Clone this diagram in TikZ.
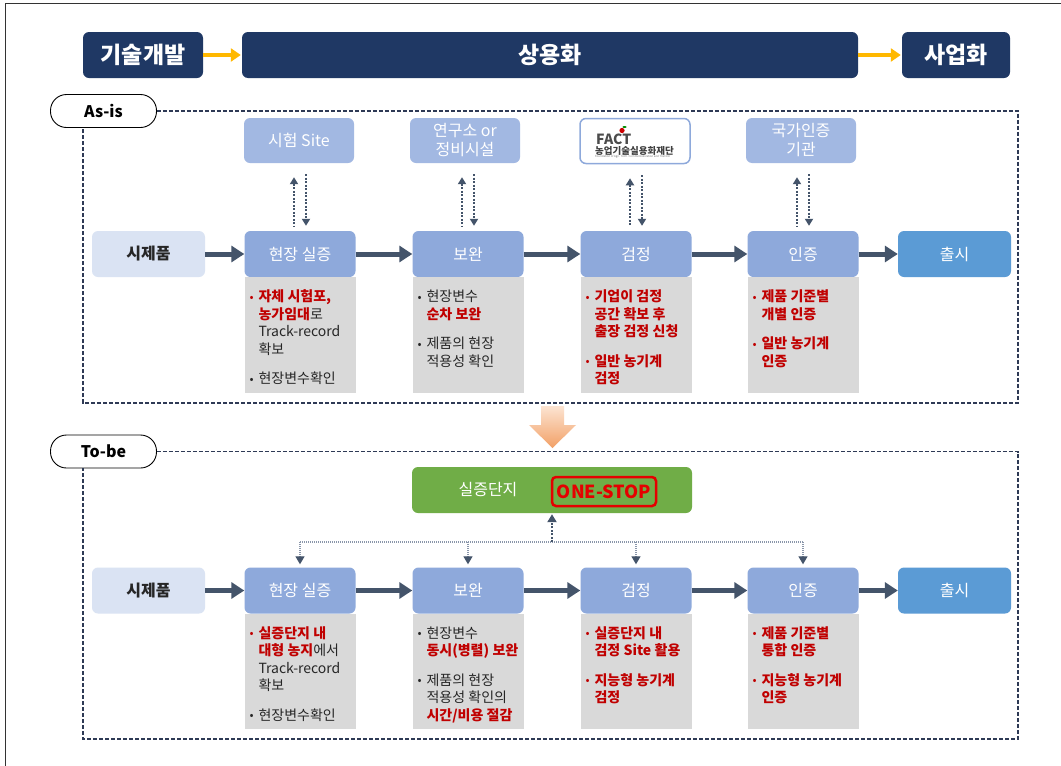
\documentclass[tikz,border=0pt]{standalone}
\usepackage{fontspec}
\setmainfont{Noto Sans CJK KR}
\usetikzlibrary{arrows.meta,calc}
\definecolor{hdrblue}{HTML}{1F3864}
\definecolor{goldc}{HTML}{FFB800}
\definecolor{topblue}{HTML}{A2B8E2}
\definecolor{stepblue}{HTML}{8EA9DB}
\definecolor{protoblue}{HTML}{DAE3F3}
\definecolor{relblue}{HTML}{5B9BD5}
\definecolor{grayfill}{HTML}{D9D9D9}
\definecolor{accred}{HTML}{C00000}
\definecolor{txtdark}{HTML}{262626}
\definecolor{arrowdark}{HTML}{44546A}
\definecolor{framecol}{HTML}{2E3A55}
\definecolor{greenbox}{HTML}{70AD47}
\definecolor{hubgray}{HTML}{8A96AA}
\definecolor{oranA}{HTML}{FCE4D2}
\definecolor{oranB}{HTML}{F2A066}
\newcommand\rb[1]{{\color{accred}\bfseries #1}}
\newcommand\bitem[2][txtdark]{\par\hangindent=9pt\hangafter=1\noindent\makebox[9pt][l]{\textcolor{#1}{\fontsize{12}{12}\selectfont\raisebox{0.5pt}{•}}}#2\par}
\newcommand\bgap{\par\vspace{12pt}}
\begin{document}
\begin{tikzpicture}[x=1pt,y=-1pt,
  hdr/.style={fill=hdrblue, rounded corners=6pt, text=white, font=\bfseries\fontsize{23}{23}\selectfont, minimum height=46pt, inner sep=0pt},
  pill/.style={draw=black, fill=white, line width=0.9pt, rounded corners=16pt, minimum width=106pt, minimum height=33pt, inner sep=0pt, font=\bfseries\fontsize{16}{16}\selectfont},
  dashframe/.style={draw=framecol, line width=1.2pt, dash pattern=on 4pt off 2pt},
  topbox/.style={fill=topblue, rounded corners=6pt, text=white, minimum width=110pt, minimum height=45pt, inner sep=0pt, align=center, font=\fontsize{16}{19}\selectfont},
  stepbox/.style={fill=stepblue, rounded corners=6pt, text=white, minimum width=111pt, minimum height=46pt, inner sep=0pt, font=\fontsize{16}{16}\selectfont},
  protobox/.style={stepbox, fill=protoblue, text=txtdark, font=\bfseries\fontsize{16}{16}\selectfont, minimum width=113pt},
  relbox/.style={stepbox, fill=relblue, minimum width=113pt},
  graybox/.style={fill=grayfill, minimum width=111pt, inner sep=0pt, anchor=north},
  btext/.style={anchor=north west, inner sep=0pt, text width=104pt, align=left, text=txtdark,
     execute at begin node={\fontsize{14}{17.5}\selectfont\setlength{\parskip}{0pt}}},
  steparrow/.style={draw=arrowdark, line width=5pt, -{Triangle[length=13pt,width=16pt]}},
  goldarrow/.style={draw=goldc, line width=4pt, -{Triangle[length=10pt,width=13pt]}, shorten >=1pt},
  dotarrow/.style={draw=arrowdark, line width=2pt, dash pattern=on 2pt off 1.5pt},
  hubline/.style={draw=hubgray, line width=1.3pt, dash pattern=on 1pt off 1pt},
  hubdown/.style={hubline, -{Triangle[length=8pt,width=9pt,color=arrowdark]}, shorten >=3pt},
  hubup/.style={draw=arrowdark, line width=2pt, dash pattern=on 2pt off 1.5pt, -{Triangle[length=8pt,width=9pt]}, shorten >=1pt}
]
\useasboundingbox (0,0) rectangle (1061,766);
\fill[white] (0,0) rectangle (1061,766);
\draw[line width=1.5pt, black!80] (5.5,766) -- (5.5,3.5) -- (1061,3.5);

% header
\node[hdr, minimum width=120pt] (h1) at (143,55) {기술개발};
\node[hdr, minimum width=616pt] (h2) at (550,55) {상용화};
\node[hdr, minimum width=108pt] (h3) at (956,55) {사업화};
\draw[goldarrow] (h1) -- (h2);
\draw[goldarrow] (h2) -- (h3);

% ---------------- As-is
\node[pill] (asis) at (103.5,111) {As-is};
\coordinate (ac1) at (1018,111);
\coordinate (ac2) at (1018,403);
\coordinate (ac3) at (83,403);
\draw[dashframe] (asis.east) -- (ac1) -- (ac2) -- (ac3) -- (asis.south -| ac3);

\node[topbox] (t1) at (299,140.5) {시험 Site};
\node[topbox] (t2) at (465,140.5) {연구소 or\\정비시설};
\node[topbox, fill=white, draw=stepblue, line width=1.5pt] (t3) at (635,141) {};
\node[font=\bfseries\fontsize{14}{14}\selectfont, text=black!70, inner sep=0pt, anchor=west] (factl) at (596,139) {FACT};
\fill[red!80!black] (622,130.5) circle (2.6pt);
\fill[green!55!black] (624.5,127) ellipse (2pt and 1pt);
\node[font=\bfseries\fontsize{9.5}{9.5}\selectfont, text=black!75, inner sep=0pt, anchor=west] (facts) at (595,150.5) {농업기술실용화재단};
\node[font=\fontsize{2.8}{3}\selectfont, text=black!55, inner sep=0pt, anchor=west] (facte) at (595,156.5) {Foundation of Agri. Tech. Commercialization and Transfer};
\node[topbox] (t4) at (801,140.5) {국가인증\\기관};

\node[protobox] (p1) at (148.5,254) {시제품};
\node[stepbox] (s1) at (300,254) {현장 실증};
\node[stepbox] (s2) at (468,254) {보완};
\node[stepbox] (s3) at (636,254) {검정};
\node[stepbox] (s4) at (803,254) {인증};
\node[relbox] (r1) at (954.5,254) {출시};
\draw[steparrow] (p1) -- (s1);
\draw[steparrow] (s1) -- (s2);
\draw[steparrow] (s2) -- (s3);
\draw[steparrow] (s3) -- (s4);
\draw[steparrow] (s4) -- (r1);

\foreach \s/\t in {s1/t1,s2/t2,s3/t3,s4/t4}{
  \draw[dotarrow, {Triangle[length=7pt,width=8pt]}-] ([xshift=-6pt,yshift=-14pt]\s.north |- \t.south) -- ([xshift=-6pt,yshift=5pt]\s.north);
  \draw[dotarrow, -{Triangle[length=7pt,width=8pt]}] ([xshift=6pt,yshift=-11pt]\s.north |- \t.south) -- ([xshift=6pt,yshift=5pt]\s.north);
}

\node[graybox, minimum height=116pt] (g1) at (s1.south) {};
\node[graybox, minimum height=116pt] (g2) at (s2.south) {};
\node[graybox, minimum height=116pt] (g3) at (s3.south) {};
\node[graybox, minimum height=116pt] (g4) at (s4.south) {};

\node[btext] (b1) at ([xshift=5pt,yshift=-7pt]g1.north west) {\bitem[accred]{\rb{자체 시험포,}\newline\rb{농가임대}로\newline Track-record\newline 확보}\bgap\bitem{현장변수확인}};
\node[btext] (b2) at ([xshift=5pt,yshift=-7pt]g2.north west) {\bitem{현장변수\newline\rb{순차 보완}}\bgap\bitem{제품의 현장\newline 적용성 확인}};
\node[btext] (b3) at ([xshift=5pt,yshift=-7pt]g3.north west) {\bitem[accred]{\rb{기업이 검정}\newline\rb{공간 확보 후}\newline\rb{출장 검정 신청}}\bgap\bitem[accred]{\rb{일반 농기계}\newline\rb{검정}}};
\node[btext] (b4) at ([xshift=5pt,yshift=-7pt]g4.north west) {\bitem[accred]{\rb{제품 기준별}\newline\rb{개별 인증}}\bgap\bitem[accred]{\rb{일반 농기계}\newline\rb{인증}}};

% orange arrow
\shade[top color=oranA, bottom color=oranB] (541,406) -- (564,406) -- (564,425) -- (576,425) -- (552.5,448) -- (529,425) -- (541,425) -- cycle;

% ---------------- To-be
\node[pill] (tobe) at (103.5,451.5) {To-be};
\coordinate (tc1) at (1018,451.5);
\coordinate (tc2) at (1018,739);
\coordinate (tc3) at (83,739);
\draw[dashframe] (tobe.east) -- (tc1) -- (tc2) -- (tc3) -- (tobe.south -| tc3);

\node[fill=greenbox, rounded corners=6pt, minimum width=280pt, minimum height=46pt, inner sep=0pt] (gb) at (552,490) {};
\node[text=white, font=\fontsize{16}{16}\selectfont, inner sep=0pt] (gbl) at (488,490) {실증단지};
\node[draw=red!90!black, line width=2.5pt, rounded corners=4pt, minimum width=104pt, minimum height=29pt, inner sep=0pt, text=red!90!black, font=\bfseries\fontsize{18}{18}\selectfont] (os) at (604,491.5) {ONE-STOP};

\node[protobox] (P1) at (148.5,590.5) {시제품};
\node[stepbox] (S1) at (300,590.5) {현장 실증};
\node[stepbox] (S2) at (468,590.5) {보완};
\node[stepbox] (S3) at (636,590.5) {검정};
\node[stepbox] (S4) at (803,590.5) {인증};
\node[relbox] (R1) at (954.5,590.5) {출시};
\draw[steparrow] (P1) -- (S1);
\draw[steparrow] (S1) -- (S2);
\draw[steparrow] (S2) -- (S3);
\draw[steparrow] (S3) -- (S4);
\draw[steparrow] (S4) -- (R1);

\coordinate (hub) at (552,542);
\draw[hubline] (hub -| S1.north) -- (hub -| S4.north);
\foreach \s in {S1,S2,S3,S4}{
  \draw[hubdown] (hub -| \s.north) -- (\s.north);
}
\draw[hubup] (hub) -- (gb.south -| hub);

\node[graybox, minimum height=115pt] (G1) at (S1.south) {};
\node[graybox, minimum height=115pt] (G2) at (S2.south) {};
\node[graybox, minimum height=115pt] (G3) at (S3.south) {};
\node[graybox, minimum height=115pt] (G4) at (S4.south) {};

\node[btext] (B1) at ([xshift=5pt,yshift=-7pt]G1.north west) {\bitem[accred]{\rb{실증단지 내}\newline\rb{대형 농지}에서\newline Track-record\newline 확보}\bgap\bitem{현장변수확인}};
\node[btext] (B2) at ([xshift=5pt,yshift=-7pt]G2.north west) {\bitem{현장변수\newline\rb{동시(병렬) 보완}}\bgap\bitem{제품의 현장\newline 적용성 확인의\newline\rb{시간/비용 절감}}};
\node[btext] (B3) at ([xshift=5pt,yshift=-7pt]G3.north west) {\bitem[accred]{\rb{실증단지 내}\newline\rb{검정 Site 활용}}\bgap\bitem[accred]{\rb{지능형 농기계}\newline\rb{검정}}};
\node[btext] (B4) at ([xshift=5pt,yshift=-7pt]G4.north west) {\bitem[accred]{\rb{제품 기준별}\newline\rb{통합 인증}}\bgap\bitem[accred]{\rb{지능형 농기계}\newline\rb{인증}}};
\end{tikzpicture}
\end{document}
